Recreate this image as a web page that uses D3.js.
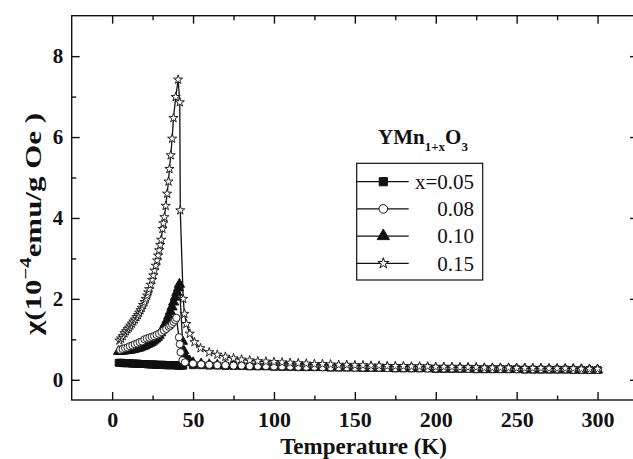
<!DOCTYPE html>
<html><head><meta charset="utf-8">
<script src="https://cdn.jsdelivr.net/npm/d3@7"></script>
<style>body{margin:0;background:#fff}svg{display:block}</style>
</head><body><svg id="c" width="633" height="459"></svg>
<script>
// ---- data ----
const tailT = [50,55,60,65,70,75,80,85,90,95,100,105,110,115,120,125,130,135,140,145,150,155,160,165,170,175,180,185,190,195,200,205,210,215,220,225,230,235,240,245,250,255,260,265,270,275,280,285,290,295,300];

// x = 0.05 (filled squares)
const lowT05 = [4,5,6,7,8,9,10,11,12,13,14,15,16,17,18,19,20,21,22,23,24,25,26,27,28,29,30,31,32,33,34,35,36,37,38,39,40,41,42,43,44];
const lowChi05 = [0.42,0.42,0.42,0.41,0.41,0.41,0.41,0.41,0.40,0.40,0.40,
                  0.40,0.40,0.39,0.39,0.39,0.39,0.39,0.38,0.38,0.38,
                  0.38,0.38,0.37,0.37,0.37,0.37,0.37,0.37,0.36,0.36,
                  0.36,0.36,0.36,0.36,0.36,0.35,0.35,0.35,0.35,0.35];
const tailChi05 = [0.36,0.36,0.35,0.35,0.34,0.34,0.34,0.33,0.33,0.33,
                   0.32,0.32,0.32,0.31,0.31,0.31,0.31,0.30,0.30,0.30,
                   0.30,0.29,0.29,0.29,0.29,0.28,0.28,0.28,0.28,0.28,
                   0.27,0.27,0.27,0.27,0.27,0.26,0.26,0.26,0.26,0.26,
                   0.26,0.25,0.25,0.25,0.25,0.25,0.25,0.24,0.24,0.24,0.24];

// x = 0.08 (open circles)
const lowT08 = [5,6.5,8,9.5,11,12.5,14,15.5,17,18.5,20,21.5,23,24.5,26,27.5,29,30.5,32,33.5,35,36,37,38,39,39.7,41.3,41.8,42.3,43.5,45];
const lowChi08 = [0.74,0.76,0.78,0.80,0.83,0.85,0.88,0.90,0.93,0.95,1.00,1.02,1.04,1.06,1.08,1.11,1.14,1.18,1.22,1.26,1.31,1.34,1.38,1.43,1.48,1.53,1.05,0.88,0.68,0.48,0.43];
const tailChi08 = [0.40,0.38,0.37,0.36,0.36,0.35,0.35,0.34,0.34,0.34,
                   0.33,0.33,0.33,0.32,0.32,0.32,0.31,0.31,0.31,0.31,
                   0.30,0.30,0.30,0.30,0.29,0.29,0.29,0.29,0.29,0.28,
                   0.28,0.28,0.28,0.28,0.27,0.27,0.27,0.27,0.27,0.27,
                   0.26,0.26,0.26,0.26,0.26,0.26,0.26,0.25,0.25,0.25,0.25];

// x = 0.10 (filled triangles)
const lowT10 = [4,5,6,7,8,9,10,11,12,13,14,15,16,17,18,19,20,21,22,23,24,25,26,27,28,29,30,31,32,33,34,35,36,37,38,39,40,41,41.6,43.5,44.2,45,46.2,48];
const lowChi10 = [0.70,0.70,0.71,0.71,0.72,0.72,0.73,0.73,0.74,0.75,
                  0.76,0.77,0.78,0.79,0.81,0.82,0.84,0.86,0.88,0.90,
                  0.92,0.95,0.98,1.01,1.05,1.10,1.16,1.23,1.31,1.39,
                  1.48,1.58,1.69,1.80,1.92,2.04,2.16,2.27,2.36,0.95,
                  0.72,0.58,0.51,0.46];
const tailChi10 = [0.42,0.39,0.37,0.36,0.35,0.35,0.34,0.34,0.33,0.33,
                   0.33,0.32,0.32,0.32,0.31,0.31,0.31,0.30,0.30,0.30,
                   0.30,0.29,0.29,0.29,0.29,0.28,0.28,0.28,0.28,0.28,
                   0.27,0.27,0.27,0.27,0.27,0.27,0.26,0.26,0.26,0.26,
                   0.26,0.26,0.25,0.25,0.25,0.25,0.25,0.25,0.25,0.24,0.24];

// x = 0.15 (open stars)
const t15 = [4.5,5.5,6.5,7.6,8.6,9.5,10.4,11.3,12.2,13.1,14,15,15.9,16.7,17.5,18.3,19.1,20,20.8,21.6,22.3,22.9,23.8,24.7,25.4,26.1,27,27.8,28.4,29,29.7,30.3,31.1,31.7,32.3,33.1,34,34.8,35.4,36.2,37.1,37.9,39.3,40.8,41.8,42.1,43.9,44.7,45.9,48,50.9,54.6,
             60,65,70,75,80,85,90,95,100,105,110,115,120,125,130,135,140,145,150,155,160,165,170,175,180,185,190,195,200,205,210,215,220,225,230,235,240,245,250,255,260,265,270,275,280,285,290,295,300];
const chi15 = [0.97,1.02,1.08,1.15,1.20,1.25,1.29,1.34,1.39,1.44,1.49,1.55,1.60,1.66,1.72,1.78,1.85,1.92,2.00,2.08,2.16,2.24,2.35,2.47,2.58,2.70,2.82,2.95,3.07,3.20,3.33,3.46,3.73,3.87,4.02,4.30,4.60,4.90,5.21,5.55,5.96,6.47,6.99,7.42,6.86,4.19,2.00,1.63,1.38,1.14,0.93,0.78,
               0.68,0.62,0.57,0.53,0.50,0.48,0.46,0.45,0.44,0.43,0.42,0.41,0.40,0.39,0.39,0.38,0.37,0.37,0.36,0.36,0.35,0.35,0.34,0.34,0.34,0.33,0.33,0.33,0.32,0.32,0.32,0.31,0.31,0.31,0.30,0.30,0.30,0.30,0.29,0.29,0.29,0.29,0.28,0.28,0.28,0.28,0.27,0.27,0.27];

const xMajor = [0,50,100,150,200,250,300];
const xMinor = [25,75,125,175,225,275];
const yMajor = [0,2,4,6,8];
const yMinor = [1,3,5,7];
const legendLabels = ["x=0.05","0.08","0.10","0.15"];

// ---- build ----
const zip = (a,b) => a.map((v,i)=>[v,b[i]]);
const series = [
  {name:legendLabels[0], sym:"square",   pts: zip(lowT05.concat(tailT), lowChi05.concat(tailChi05))},
  {name:legendLabels[1], sym:"circle",   pts: zip(lowT08.concat(tailT), lowChi08.concat(tailChi08))},
  {name:legendLabels[2], sym:"triangle", pts: zip(lowT10.concat(tailT), lowChi10.concat(tailChi10))},
  {name:legendLabels[3], sym:"star",     pts: zip(t15, chi15)}
];
const drawOrder = [0,2,1,3];

const svg = d3.select("#c");
const L=71.7, R=638, T=15.7, B=400;
const x = d3.scaleLinear().domain([-25,325]).range([L,R]);
const y = d3.scaleLinear().domain([-0.5,9]).range([B,T]);
const FONT = "'Liberation Serif','Times New Roman',serif";

function symbolPath(type, big){
  const s = big ? 1.4 : 1;
  if(type==="square")   return d3.symbol(d3.symbolSquare, 48*s)();
  if(type==="circle")   return d3.symbol(d3.symbolCircle, 42*s)();
  if(type==="triangle") return d3.symbol(d3.symbolTriangle, 46*s)();
  return d3.symbol(d3.symbolStar, 26*s)();
}
function symFill(type){ return (type==="square"||type==="triangle") ? "#111" : "#fff"; }

const plot = svg.append("g");
const line = d3.line().x(d=>x(d[0])).y(d=>y(d[1]));
drawOrder.forEach(i=>{
  const s = series[i];
  const g = plot.append("g");
  g.append("path").attr("d", line(s.pts)).attr("fill","none").attr("stroke","#111").attr("stroke-width",1.3);
  g.selectAll("path.m").data(s.pts).enter().append("path").attr("class","m")
    .attr("d", symbolPath(s.sym,false))
    .attr("transform", d=>`translate(${x(d[0])},${y(d[1])})`)
    .attr("fill", symFill(s.sym)).attr("stroke","#111").attr("stroke-width",0.9);
});

// frame
svg.append("rect").attr("x",L).attr("y",T).attr("width",R-L).attr("height",B-T)
  .attr("fill","none").attr("stroke","#111").attr("stroke-width",1.4);

function styleAxis(g, size){
  g.select(".domain").remove();
  g.selectAll("line").attr("stroke","#111").attr("stroke-width",1.4);
  g.selectAll("text").attr("font-family",FONT).attr("font-weight","bold").attr("font-size",size).attr("fill","#111");
}
// bottom
styleAxis(svg.append("g").attr("transform",`translate(0,${B})`)
  .call(d3.axisBottom(x).tickValues(xMajor).tickSize(-8).tickPadding(11).tickFormat(d3.format("d"))), 22);
styleAxis(svg.append("g").attr("transform",`translate(0,${B})`)
  .call(d3.axisBottom(x).tickValues(xMinor).tickSize(-4.5).tickFormat("")), 22);
// top
styleAxis(svg.append("g").attr("transform",`translate(0,${T})`)
  .call(d3.axisTop(x).tickValues(xMajor).tickSize(-8).tickFormat("")), 22);
styleAxis(svg.append("g").attr("transform",`translate(0,${T})`)
  .call(d3.axisTop(x).tickValues(xMinor).tickSize(-4.5).tickFormat("")), 22);
// left
styleAxis(svg.append("g").attr("transform",`translate(${L},0)`)
  .call(d3.axisLeft(y).tickValues(yMajor).tickSize(-8).tickPadding(8.5).tickFormat(d3.format("d"))), 21);
styleAxis(svg.append("g").attr("transform",`translate(${L},0)`)
  .call(d3.axisLeft(y).tickValues(yMinor).tickSize(-4.5).tickFormat("")), 21);
// right
styleAxis(svg.append("g").attr("transform",`translate(${R},0)`)
  .call(d3.axisRight(y).tickValues(yMajor).tickSize(-8).tickFormat("")), 21);
styleAxis(svg.append("g").attr("transform",`translate(${R},0)`)
  .call(d3.axisRight(y).tickValues(yMinor).tickSize(-4.5).tickFormat("")), 21);

// axis titles
svg.append("text").attr("x",363.5).attr("y",454).attr("text-anchor","middle")
  .attr("font-family",FONT).attr("font-weight","bold").attr("font-size",23).attr("fill","#111")
  .text("Temperature (K)");
const yt = svg.append("text").attr("transform","translate(41,224) rotate(-90)").attr("text-anchor","middle")
  .attr("font-family",FONT).attr("font-weight","bold").attr("font-size",24).attr("fill","#111")
  .attr("textLength",222).attr("lengthAdjust","spacingAndGlyphs");
yt.append("tspan").text("\u03c7(10");
yt.append("tspan").attr("font-size",16).attr("dy",-10).text("\u22124");
yt.append("tspan").attr("dy",10).text("emu/g Oe )");

// legend title
const lt = svg.append("text").attr("x",378).attr("y",144)
  .attr("font-family",FONT).attr("font-weight","bold").attr("font-size",21).attr("fill","#111");
lt.append("tspan").text("YMn");
lt.append("tspan").attr("font-size",13).attr("dy",7).text("1+x");
lt.append("tspan").attr("dy",-7).text("O");
lt.append("tspan").attr("font-size",13).attr("dy",7).text("3");

// legend box
const lg = svg.append("g");
lg.append("rect").attr("x",356.7).attr("y",163.3).attr("width",126).attr("height",116.7)
  .attr("fill","#fff").attr("stroke","#111").attr("stroke-width",1.2);
series.forEach((s,i)=>{
  const cy = 181.7 + i*27.2;
  lg.append("line").attr("x1",356.7).attr("x2",408.7).attr("y1",cy).attr("y2",cy).attr("stroke","#111").attr("stroke-width",1.2);
  lg.append("path").attr("d",symbolPath(s.sym,true)).attr("transform",`translate(383.3,${cy})`)
    .attr("fill",symFill(s.sym)).attr("stroke","#111").attr("stroke-width",1);
  lg.append("text").attr("x",474).attr("y",cy+7.3).attr("text-anchor","end")
    .attr("font-family",FONT).attr("font-size",21).attr("fill","#111").text(s.name);
});
</script>
</body></html>
